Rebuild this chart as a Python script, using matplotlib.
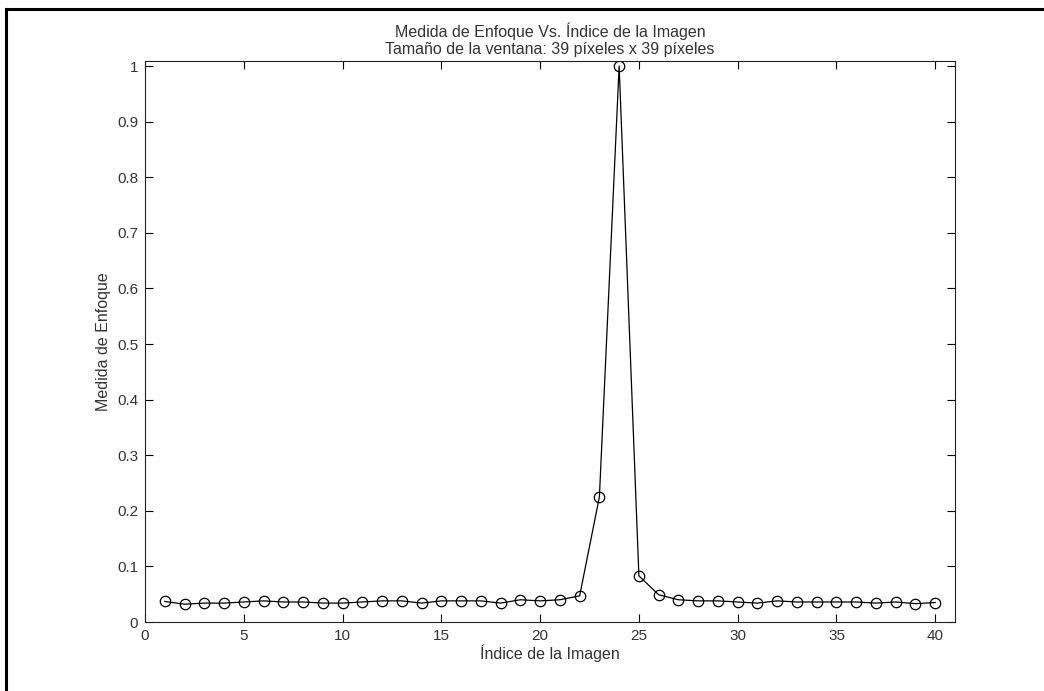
import numpy as np
from matplotlib import pyplot as plt
from matplotlib.lines import Line2D

# indice de la imagen y medida de enfoque normalizada
indice = np.arange(1, 41)
enfoque = [0.037, 0.032, 0.034, 0.034, 0.036, 0.038, 0.036, 0.036, 0.034, 0.034,
           0.036, 0.038, 0.038, 0.034, 0.038, 0.038, 0.038, 0.034, 0.040, 0.038,
           0.040, 0.047, 0.225, 1.000, 0.083, 0.049, 0.040, 0.038, 0.038, 0.036,
           0.034, 0.038, 0.036, 0.036, 0.036, 0.036, 0.034, 0.036, 0.033, 0.035]

plt.rcParams['font.family'] = ['Liberation Sans', 'DejaVu Sans']
plt.rcParams['font.size'] = 11
txt = '#333333'

fig = plt.figure(figsize=(10.44, 6.91), dpi=100)
ax = fig.add_axes([145/1044, 1 - 622/691, 810/1044, 561/691])

ax.plot(indice, enfoque, '-o', color='black', lw=0.9,
        markerfacecolor='none', markeredgecolor='black', markersize=7.5, markeredgewidth=0.9)

ax.set_xlim(0, 41)
ax.set_ylim(0, 1.009)
ax.set_xticks(np.arange(0, 41, 5))
ax.set_yticks(np.arange(0, 1.01, 0.1))
ax.set_yticklabels(['0', '0.1', '0.2', '0.3', '0.4', '0.5', '0.6', '0.7', '0.8', '0.9', '1'])
ax.tick_params(direction='in', length=6, width=0.8, top=True, right=True,
               labelcolor=txt, labelsize=11, pad=5)
for s in ax.spines.values():
    s.set_color('#222222')
    s.set_linewidth(0.8)

ax.set_title('Medida de Enfoque Vs. Índice de la Imagen\nTamaño de la ventana: 39 píxeles x 39 píxeles',
             fontsize=11.5, color=txt, pad=5, linespacing=1.15)
ax.set_xlabel('Índice de la Imagen', fontsize=11.5, color=txt, labelpad=1)
ax.set_ylabel('Medida de Enfoque', fontsize=11.5, color=txt, labelpad=4)

# marco de la ventana (solo arriba e izquierda)
fig.add_artist(Line2D([6/1044, 1], [1 - 9/691, 1 - 9/691], color='black', lw=2.2,
                      transform=fig.transFigure))
fig.add_artist(Line2D([6/1044, 6/1044], [0, 1 - 9/691], color='black', lw=2.2,
                      transform=fig.transFigure))

plt.savefig('out.png')
plt.close()
